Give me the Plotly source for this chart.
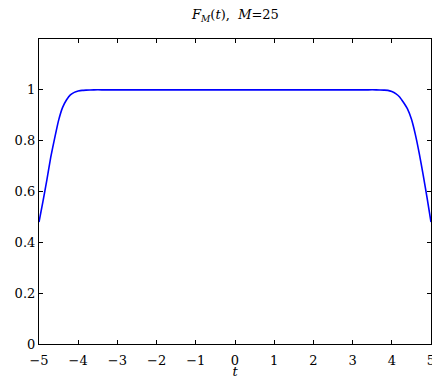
import plotly.graph_objects as go

# Data
t_left = [-5.0, -4.9, -4.8, -4.7, -4.6, -4.5, -4.4, -4.3, -4.2, -4.1, -4.0, -3.9, -3.8, -3.6, -3.4]
f_left = [0.48, 0.56, 0.645, 0.735, 0.81, 0.88, 0.93, 0.96, 0.98, 0.99, 0.995, 0.998, 0.999, 1.0, 1.0]
t_mid = [-3.0, -2.0, -1.0, 0.0, 1.0, 2.0, 3.0]
f_mid = [1.0, 1.0, 1.0, 1.0, 1.0, 1.0, 1.0]
t_right = [3.4, 3.6, 3.8, 3.9, 4.0, 4.1, 4.2, 4.3, 4.4, 4.5, 4.6, 4.7, 4.8, 4.9, 5.0]
f_right = [1.0, 1.0, 0.999, 0.998, 0.993, 0.985, 0.972, 0.95, 0.925, 0.885, 0.825, 0.75, 0.665, 0.575, 0.48]

x_ticks = [-5, -4, -3, -2, -1, 0, 1, 2, 3, 4, 5]
y_ticks = [0, 0.2, 0.4, 0.6, 0.8, 1]
y_tick_text = ["0", "0.2", "0.4", "0.6", "0.8", "1"]

t = t_left + t_mid + t_right
f = f_left + f_mid + f_right

fig = go.Figure()
fig.add_trace(go.Scatter(x=t, y=f, mode="lines", line=dict(color="#0000FF", width=1.6, shape="spline", smoothing=0.5),
                         showlegend=False, hoverinfo="skip"))

font = dict(family="DejaVu Serif, Liberation Serif, serif", size=13, color="black")
axis_common = dict(showgrid=False, zeroline=False, showline=True, linecolor="black", linewidth=1.2,
                   mirror="ticks", ticks="inside", ticklen=4, tickcolor="black", tickwidth=1,
                   tickfont=font, automargin=False, ticklabeloverflow="allow")

fig.update_layout(
    width=432, height=379,
    margin=dict(l=39, r=1, t=39, b=35),
    paper_bgcolor="white", plot_bgcolor="white",
    title=dict(text="<i>F</i><sub><i>M</i></sub>(<i>t</i>),  <i>M</i>=25", x=0.545, xanchor="center",
               y=0.962, yanchor="middle",
               font=dict(family="DejaVu Serif, Liberation Serif, serif", size=13, color="black")),
    xaxis=dict(range=[-5, 5], tickvals=x_ticks, ticklabelstandoff=4,
               title=dict(text="<i>t</i>", font=font, standoff=0), **axis_common),
    yaxis=dict(range=[0, 1.2], tickvals=y_ticks, ticktext=y_tick_text, **axis_common),
)

fig.write_html("out.html", config={"displayModeBar": False},
               post_script="document.body.style.margin='0';document.body.style.overflow='hidden';")
